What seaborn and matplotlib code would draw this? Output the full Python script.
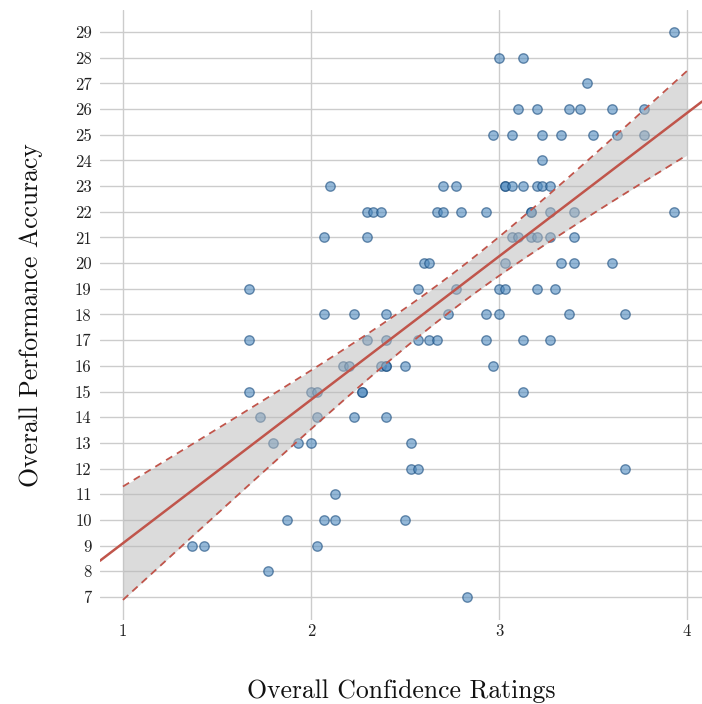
import numpy as np
import pandas as pd
import matplotlib
matplotlib.use("Agg")
import matplotlib.pyplot as plt
import seaborn as sns

# Participant scores: accuracy (integer) and mean confidence rating, grouped by accuracy
acc_29 = [3.93]
acc_28 = [3.00, 3.13]
acc_27 = [3.47]
acc_26 = [3.10, 3.20, 3.37, 3.43, 3.60, 3.77]
acc_25 = [2.97, 3.07, 3.23, 3.33, 3.50, 3.63, 3.77]
acc_24 = [3.23]
acc_23 = [2.10, 2.70, 2.77, 3.03, 3.03, 3.07, 3.13, 3.20, 3.23, 3.27]
acc_22 = [2.30, 2.33, 2.37, 2.67, 2.70, 2.80, 2.93, 3.17, 3.17, 3.27, 3.40, 3.93]
acc_21 = [2.07, 2.30, 3.07, 3.10, 3.17, 3.20, 3.27, 3.40]
acc_20 = [2.60, 2.63, 3.03, 3.33, 3.40, 3.60]
acc_19 = [1.67, 2.57, 2.77, 3.00, 3.03, 3.20, 3.30]
acc_18 = [2.07, 2.23, 2.40, 2.73, 2.93, 3.00, 3.37, 3.67]
acc_17 = [1.67, 2.30, 2.40, 2.57, 2.63, 2.67, 2.93, 3.13, 3.27]
acc_16 = [2.17, 2.20, 2.37, 2.40, 2.40, 2.50, 2.97]
acc_15 = [1.67, 2.00, 2.03, 2.27, 2.27, 3.13]
acc_14 = [1.73, 2.03, 2.23, 2.40]
acc_13 = [1.80, 1.93, 2.00, 2.53]
acc_12 = [2.53, 2.57, 3.67]
acc_11 = [2.13]
acc_10 = [1.87, 2.07, 2.13, 2.50]
acc_9 = [1.37, 1.43, 2.03]
acc_8 = [1.77]
acc_7 = [2.83]

groups = {29: acc_29, 28: acc_28, 27: acc_27, 26: acc_26, 25: acc_25, 24: acc_24,
          23: acc_23, 22: acc_22, 21: acc_21, 20: acc_20, 19: acc_19, 18: acc_18,
          17: acc_17, 16: acc_16, 15: acc_15, 14: acc_14, 13: acc_13, 12: acc_12,
          11: acc_11, 10: acc_10, 9: acc_9, 8: acc_8, 7: acc_7}

x_ticks = [1, 2, 3, 4]
y_ticks = list(range(7, 30))

rows = [(c, a) for a, cs in groups.items() for c in cs]
df = pd.DataFrame(rows, columns=["confidence", "accuracy"])

# Ordinary least squares fit with a 95% confidence band for the mean
x = df["confidence"].to_numpy()
y = df["accuracy"].to_numpy()
n = len(x)
slope, intercept = np.polyfit(x, y, 1)
resid = y - (intercept + slope * x)
s = np.sqrt(np.sum(resid ** 2) / (n - 2))
sxx = np.sum((x - x.mean()) ** 2)
try:
    from scipy import stats
    tcrit = stats.t.ppf(0.975, n - 2)
except Exception:
    tcrit = 1.982

band_x = np.linspace(1, 4, 200)
band_fit = intercept + slope * band_x
half = tcrit * s * np.sqrt(1.0 / n + (band_x - x.mean()) ** 2 / sxx)

sns.set_theme(style="whitegrid")
plt.rcParams["font.family"] = ["cmr10", "DejaVu Serif"]
plt.rcParams["axes.formatter.use_mathtext"] = True
plt.rcParams["mathtext.fontset"] = "cm"

fig = plt.figure(figsize=(7.02, 7.04), dpi=100)
ax = fig.add_axes([100 / 702, 1 - 620 / 704, 602 / 702, 610 / 704])

xlim = (0.878, 4.08)
ylim = (6.1, 29.86)

sns.scatterplot(data=df, x="confidence", y="accuracy", ax=ax, s=46,
                color="#4f8bc0", edgecolor="#174a7c", linewidth=1.0,
                alpha=0.6, zorder=2)

ax.fill_between(band_x, band_fit - half, band_fit + half,
                color="#b8b8b8", alpha=0.5, linewidth=0, zorder=3)
red = "#c0554b"
ax.plot(band_x, band_fit + half, color=red, lw=1.3, ls=(0, (4, 3)), zorder=4)
ax.plot(band_x, band_fit - half, color=red, lw=1.3, ls=(0, (4, 3)), zorder=4)
line_x = np.array(xlim)
sns.lineplot(x=line_x, y=intercept + slope * line_x, ax=ax, color=red, lw=1.8, zorder=5)

ax.set_xlim(*xlim)
ax.set_ylim(*ylim)
ax.set_xticks(x_ticks)
ax.set_yticks(y_ticks)
ax.set_xticklabels([str(t) for t in x_ticks])
ax.set_yticklabels([str(t) for t in y_ticks])
ax.tick_params(axis="both", length=0, labelsize=12, colors="#222222")
ax.tick_params(axis="y", pad=6)
ax.tick_params(axis="x", pad=3)
ax.grid(True, color="#cccccc", linewidth=1.0)
for sp in ax.spines.values():
    sp.set_visible(False)
ax.set_facecolor("white")

ax.set_xlabel("Overall Confidence Ratings", fontsize=18.5, labelpad=29, color="#111111")
ax.set_ylabel("Overall Performance Accuracy", fontsize=18.5, labelpad=23, color="#111111")

fig.savefig("out.png", dpi=100, facecolor="white")
